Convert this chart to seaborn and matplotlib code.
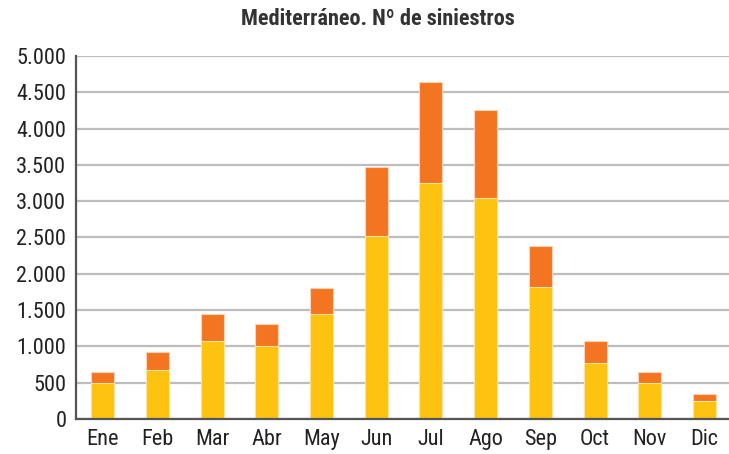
import matplotlib
matplotlib.use("Agg")
import matplotlib.pyplot as plt
import seaborn as sns
import pandas as pd
from matplotlib import font_manager
from matplotlib.ticker import FuncFormatter, MultipleLocator

meses = ["Ene", "Feb", "Mar", "Abr", "May", "Jun", "Jul", "Ago", "Sep", "Oct", "Nov", "Dic"]
base = [500, 675, 1080, 1010, 1440, 2515, 3255, 3050, 1820, 770, 500, 250]
total = [650, 925, 1440, 1305, 1800, 3475, 4640, 4260, 2380, 1075, 650, 345]

sns.set_theme(style="white")
available = {f.name for f in font_manager.fontManager.ttflist}
narrow = [f for f in ["Roboto Condensed", "Liberation Sans Narrow", "Open Sans Condensed",
                      "Noto Sans Condensed"] if f in available]
fam = narrow[0] if narrow else "Liberation Sans"
plt.rcParams['font.family'] = [fam, 'DejaVu Sans']
tick_size = 16 if narrow else 14
title_size = 16 if narrow else 14

df = pd.DataFrame({"mes": meses, "base": base, "total": total})

fig = plt.figure(figsize=(7.29, 4.54), dpi=100)
ax = fig.add_axes([0.1043, 0.0771, 0.8957, 0.7996])

sns.barplot(data=df, x="mes", y="total", color="#F47521", width=0.42, saturation=1,
            edgecolor="#FBD3B8", linewidth=0.8, ax=ax, zorder=3)
sns.barplot(data=df, x="mes", y="base", color="#FEC210", width=0.42, saturation=1,
            edgecolor="#FEE3A0", linewidth=0.8, ax=ax, zorder=3)

ax.set_ylim(0, 5000)
ax.set_xlim(-0.49, 11.45)
ax.yaxis.set_major_locator(MultipleLocator(500))
ax.yaxis.set_major_formatter(FuncFormatter(lambda v, p: f"{int(v):,}".replace(",", ".")))
ax.grid(axis="y", color="#BDBDBD", linewidth=1.6, zorder=0)
ax.set_axisbelow(True)
ax.set_xlabel("")
ax.set_ylabel("")
for s in ["top", "right"]:
    ax.spines[s].set_visible(False)
for s in ["left", "bottom"]:
    ax.spines[s].set_color("#555555")
    ax.spines[s].set_linewidth(1.6)
    ax.spines[s].set_zorder(4)
ax.tick_params(axis="both", length=0, labelsize=tick_size, colors="#222222")
ax.tick_params(axis="y", pad=7)
ax.tick_params(axis="x", pad=7)

fig.text(378 / 729, 1 - 19 / 454, "Mediterráneo. Nº de siniestros", ha="center", va="center",
         fontsize=title_size, fontweight="bold", color="#333333")

fig.savefig("out.png", dpi=100)
